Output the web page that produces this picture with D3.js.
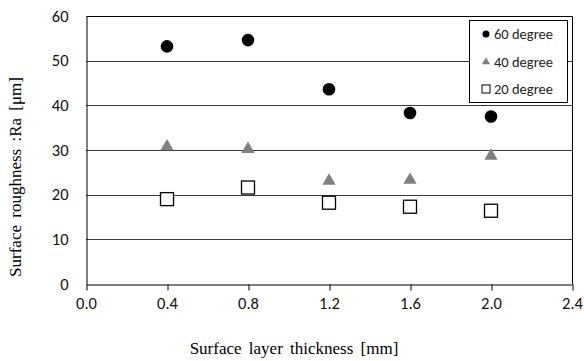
<!DOCTYPE html>
<html>
<head>
<meta charset="utf-8">
<script src="https://cdnjs.cloudflare.com/ajax/libs/d3/7.8.5/d3.min.js"></script>
<style>
  body { margin: 0; background: #fff; }
  svg { display: block; }
</style>
</head>
<body>
<svg id="chart" width="584" height="361"></svg>
<script>
// thickness values on the x axis
var thickness = [0.4, 0.8, 1.2, 1.6, 2.0];
var ra60 = [53.2, 54.6, 43.6, 38.3, 37.5];
var ra40 = [31.0, 30.4, 23.3, 23.5, 28.9];
var ra20 = [19.0, 21.6, 18.2, 17.3, 16.4];
var seriesNames = ['60 degree', '40 degree', '20 degree'];
var xTicks = [0, 0.4, 0.8, 1.2, 1.6, 2.0, 2.4];
var yTicks = [0, 10, 20, 30, 40, 50, 60];

var svg = d3.select('#chart');
var m = { left: 86, right: 572, top: 16, bottom: 284 };

var x = d3.scaleLinear().domain([0, 2.4]).range([m.left, m.right]);
var y = d3.scaleLinear().domain([0, 60]).range([m.bottom, m.top]);

var tickFont = 'Carlito, "Open Sans", "Liberation Sans", sans-serif';
var serif = '"Liberation Serif", "Times New Roman", serif';

// gridlines
svg.append('g').selectAll('line')
  .data(yTicks.filter(function(d) { return d > 0 && d < 60; }))
  .enter().append('line')
  .attr('x1', m.left).attr('x2', m.right)
  .attr('y1', function(d) { return Math.round(y(d)) + 0.5; })
  .attr('y2', function(d) { return Math.round(y(d)) + 0.5; })
  .attr('stroke', '#3a3a3a').attr('stroke-width', 1);

// frame top and right
svg.append('path')
  .attr('d', 'M' + (m.left + 0.5) + ',' + (m.top + 0.5) + 'H' + (m.right + 0.5) + 'V' + (m.bottom + 0.5))
  .attr('fill', 'none').attr('stroke', '#000').attr('stroke-width', 1);

// x axis
var xAxis = d3.axisBottom(x).tickValues(xTicks).tickSize(6).tickSizeOuter(0)
  .tickFormat(d3.format('.1f'));
var gx = svg.append('g').attr('transform', 'translate(0,' + (m.bottom + 0.5) + ')').call(xAxis);
gx.selectAll('.tick line').attr('transform', 'translate(0.5,0)');
gx.select('.domain').attr('stroke', '#000');
gx.selectAll('text').attr('font-family', tickFont).attr('font-size', 16.5)
  .attr('fill', '#111').attr('dy', '0.95em');

// y axis
var yAxis = d3.axisLeft(y).tickValues(yTicks).tickSize(0).tickPadding(18);
var gy = svg.append('g').attr('transform', 'translate(' + (m.left + 0.5) + ',0)').call(yAxis);
gy.select('.domain').attr('stroke', '#000');
gy.selectAll('text').attr('font-family', tickFont).attr('font-size', 16.5).attr('fill', '#111');

// axis titles
svg.append('text')
  .attr('x', 294).attr('y', 354)
  .attr('text-anchor', 'middle')
  .attr('font-family', serif).attr('font-size', 17)
  .attr('word-spacing', 3)
  .text('Surface layer thickness [mm]');

svg.append('text')
  .attr('transform', 'translate(21,177) rotate(-90)')
  .attr('text-anchor', 'middle')
  .attr('font-family', serif).attr('font-size', 17)
  .attr('word-spacing', 3)
  .text('Surface roughness :Ra [\u03bcm]');

var triangle = d3.symbol().type(d3.symbolTriangle);

// 20 degree squares
svg.append('g').selectAll('rect')
  .data(ra20)
  .enter().append('rect')
  .attr('x', function(d, i) { return x(thickness[i]) - 6.5; })
  .attr('y', function(d) { return y(d) - 6.5; })
  .attr('width', 13).attr('height', 13)
  .attr('fill', '#fff').attr('stroke', '#000').attr('stroke-width', 1.3);

// 40 degree triangles
svg.append('g').selectAll('path')
  .data(ra40)
  .enter().append('path')
  .attr('d', triangle.size(75))
  .attr('transform', function(d, i) { return 'translate(' + x(thickness[i]) + ',' + (y(d) + 1) + ')'; })
  .attr('fill', '#7f7f7f');

// 60 degree circles
svg.append('g').selectAll('circle')
  .data(ra60)
  .enter().append('circle')
  .attr('cx', function(d, i) { return x(thickness[i]); })
  .attr('cy', function(d) { return y(d); })
  .attr('r', 6.3)
  .attr('fill', '#000');

// legend
var lg = svg.append('g');
lg.append('rect')
  .attr('x', 469.5).attr('y', 20.5).attr('width', 98).attr('height', 82)
  .attr('fill', '#fff').attr('stroke', '#000').attr('stroke-width', 1);

var rows = lg.selectAll('g.row')
  .data(seriesNames)
  .enter().append('g')
  .attr('class', 'row')
  .attr('transform', function(d, i) { return 'translate(486,' + (34 + i * 27.5) + ')'; });

rows.each(function(d, i) {
  var row = d3.select(this);
  if (i === 0) {
    row.append('circle').attr('r', 3.5).attr('fill', '#000');
  } else if (i === 1) {
    row.append('path').attr('d', triangle.size(28)).attr('transform', 'translate(0,0.5)').attr('fill', '#7f7f7f');
  } else {
    row.append('rect').attr('x', -4).attr('y', -4).attr('width', 8).attr('height', 8)
      .attr('fill', '#fff').attr('stroke', '#000').attr('stroke-width', 1);
  }
  row.append('text')
    .attr('x', 8).attr('dy', '0.35em')
    .attr('font-family', tickFont).attr('font-size', 14.5)
    .attr('fill', '#222')
    .text(d);
});
</script>
</body>
</html>
